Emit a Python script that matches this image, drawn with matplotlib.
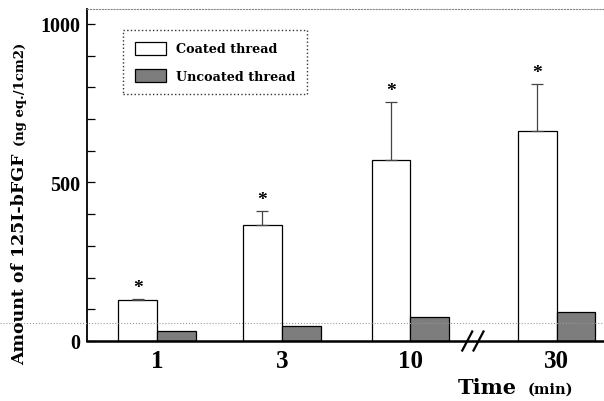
import matplotlib
matplotlib.use("Agg")
import matplotlib.pyplot as plt
from matplotlib.lines import Line2D
import numpy as np

# data
times = ["1", "3", "10", "30"]
coated = [129, 366, 571, 663]
coated_err = [5, 44, 183, 148]
uncoated = [31, 47, 76, 91]
signif = ["*", "*", "*", "*"]

# group positions (gap before 30 because of the axis break)
xpos = np.array([0, 1, 2.03, 3.2])
w = 0.31
break_x = 2.53

serif_num = "Liberation Serif"
serif_txt = "DejaVu Serif"

fig = plt.figure(figsize=(6.04, 4.02), dpi=100)
ax = fig.add_axes([87/604, 1-342/402, 1-87/604, 332/402])

ax.bar(xpos - w/2, coated, w, color="white", edgecolor="black", linewidth=0.9,
       label="Coated thread", zorder=2)
ax.bar(xpos + w/2, uncoated, w, color="#7d7d7d", edgecolor="black", linewidth=0.9,
       label="Uncoated thread", zorder=2)
ax.errorbar(xpos - w/2, coated, yerr=[np.zeros(len(coated)), coated_err], fmt="none",
            ecolor="#444444", elinewidth=0.9, capsize=4, capthick=0.9, zorder=3)

for x, c, e, s in zip(xpos, coated, coated_err, signif):
    ax.annotate(s, (x - w/2, c + e), xytext=(0, 8), textcoords="offset points",
                ha="center", va="center", fontsize=14, fontweight="bold",
                family=serif_num)

ax.set_xlim(-0.56, 3.58)
ax.set_ylim(0, 1047)
ax.set_xticks(xpos)
ax.set_xticklabels(times, fontsize=18, fontweight="bold", family=serif_num)
ax.tick_params(axis="x", length=0, pad=6)
ax.set_yticks([0, 500, 1000])
ax.set_yticklabels(["0", "500", "1000"], fontsize=14.5, fontweight="bold", family=serif_num)
ax.set_yticks(np.arange(100, 1000, 100), minor=True)
ax.tick_params(axis="y", which="both", direction="in", length=6, width=0.9, pad=5)

ax.spines["right"].set_visible(False)
ax.spines["left"].set_linewidth(1.3)
ax.spines["bottom"].set_linewidth(1.8)
ax.spines["top"].set_linestyle(":")
ax.spines["top"].set_color("#888888")
ax.spines["top"].set_linewidth(0.8)

# axis break marks
for dx in (-0.045, 0.045):
    ax.plot([break_x + dx - 0.04, break_x + dx + 0.04], [-30, 30], color="black",
            lw=1.6, clip_on=False, zorder=5)

leg = ax.legend(loc="upper left", bbox_to_anchor=(123/604, 1-31/402),
                bbox_transform=fig.transFigure, borderaxespad=0,
                prop={"family": serif_txt, "weight": "bold", "size": 9.2},
                handlelength=2.5, handleheight=1.2, handletextpad=0.75,
                labelspacing=1.05, borderpad=0.9, fancybox=False, framealpha=1)
leg.get_frame().set_edgecolor("#333333")
leg.get_frame().set_linestyle(":")
leg.get_frame().set_linewidth(1.0)

# y label in two sizes
fig.text(20/604, 1-365/402, "Amount of 125I-bFGF", rotation=90, ha="center",
         va="bottom", fontsize=12.5, fontweight="bold", family=serif_txt)
fig.text(21/604, 1-146/402, "(ng eq./1cm2)", rotation=90, ha="center",
         va="bottom", fontsize=9.5, fontweight="bold", family=serif_txt)

# x label
fig.text(458/604, 1-388/402, "Time", ha="left", va="center", fontsize=15,
         fontweight="bold", family=serif_txt)
fig.text(528/604, 1-390/402, "(min)", ha="left", va="center", fontsize=10.5,
         fontweight="bold", family=serif_txt)

# faint scan line across the page
fig.add_artist(Line2D([0, 1], [1-324/402, 1-324/402], ls=":", color="#999999", lw=0.8))

fig.savefig("out.png", dpi=100)
